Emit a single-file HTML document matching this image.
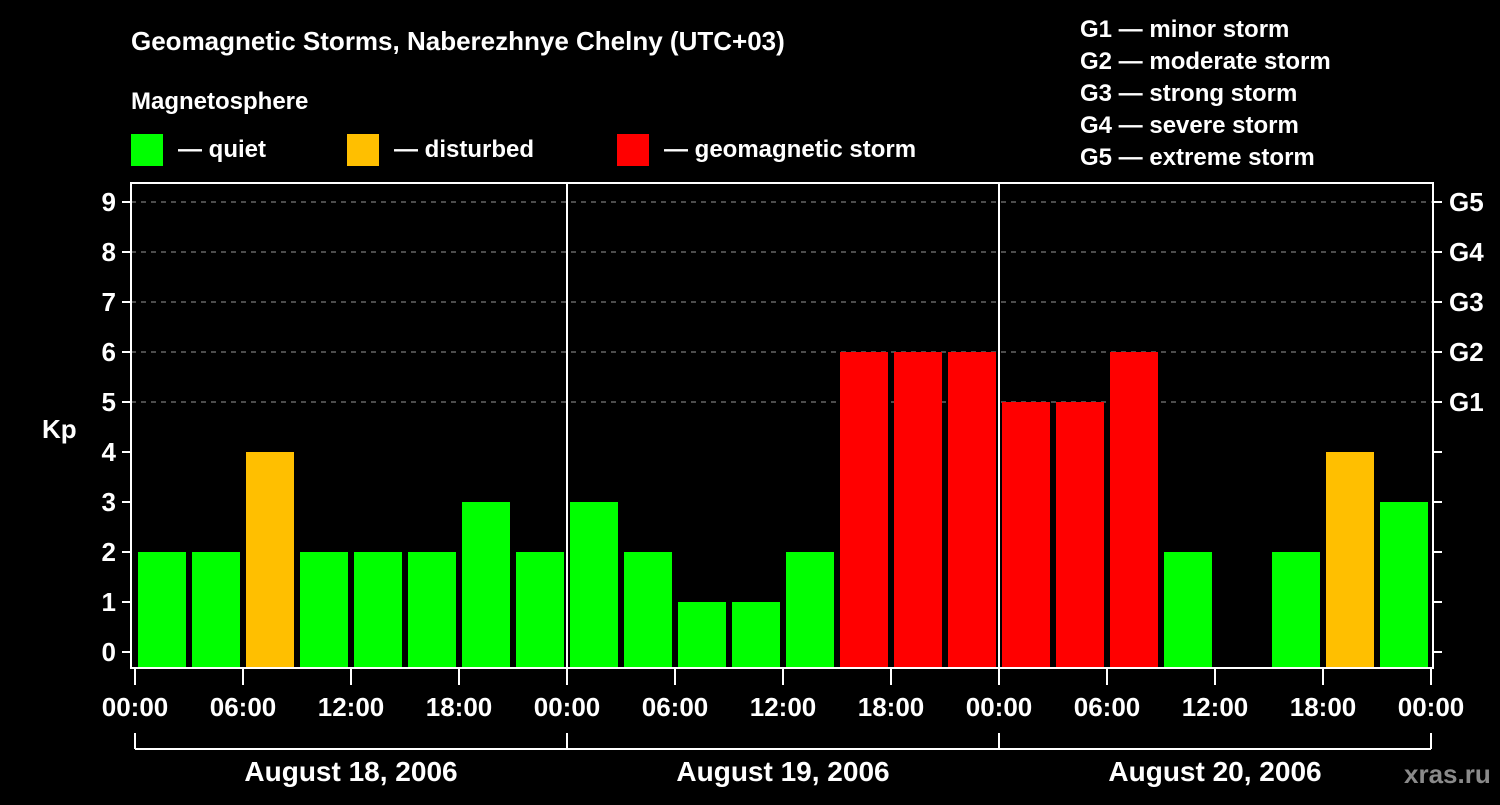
<!DOCTYPE html>
<html><head><meta charset="utf-8"><style>
body{margin:0;background:#000;width:1500px;height:800px;overflow:hidden}
svg text{font-family:"Liberation Sans",sans-serif;font-weight:bold;fill:#fff}
</style></head><body>
<svg id="c" width="1500" height="800">
<rect width="1500" height="800" fill="#000"/>
<text x="131" y="50" font-size="26">Geomagnetic Storms, Naberezhnye Chelny (UTC+03)</text>
<text x="131" y="109" font-size="24">Magnetosphere</text>
<g><rect x="131" y="134" width="32" height="32" fill="#00ff00"/><text x="178" y="157" font-size="24">— quiet</text></g>
<g><rect x="347" y="134" width="32" height="32" fill="#ffbf00"/><text x="394" y="157" font-size="24">— disturbed</text></g>
<g><rect x="617" y="134" width="32" height="32" fill="#ff0000"/><text x="664" y="157" font-size="24">— geomagnetic storm</text></g>
<g font-size="24">
<text x="1080" y="37">G1 — minor storm</text><text x="1080" y="69">G2 — moderate storm</text><text x="1080" y="101">G3 — strong storm</text><text x="1080" y="133">G4 — severe storm</text><text x="1080" y="165">G5 — extreme storm</text></g>
<text x="42" y="438" font-size="26">Kp</text>
<text x="1404" y="783" font-size="26" fill="#888" style="fill:#8a8a8a">xras.ru</text>
<g id="plot"></g>
</svg>
<script>
const kpValues=[2,2,4,2,2,2,3,2, 3,2,1,1,2,6,6,6, 5,5,6,2,0,2,4,3];
const yTicks=[0,1,2,3,4,5,6,7,8,9];
const gLabels=["G1","G2","G3","G4","G5"];
const xTickLabels=["00:00","06:00","12:00","18:00","00:00","06:00","12:00","18:00","00:00","06:00","12:00","18:00","00:00"];
const dayLabels=["August 18, 2006","August 19, 2006","August 20, 2006"];
const NS="http://www.w3.org/2000/svg";
const g=document.getElementById('plot');
const L=131,R=1433,T=183,B=668,X0=135,DAY=432;
const y=k=>652-50*k;
const x=h=>X0+h*DAY/24;
function el(t,a){const e=document.createElementNS(NS,t);for(const k in a)e.setAttribute(k,a[k]);g.appendChild(e);return e;}
[5,6,7,8,9].forEach(k=>{const l=el('line',{x1:L,x2:R,y1:y(k),y2:y(k),stroke:'#999','stroke-dasharray':'5,5','stroke-width':1});

});
kpValues.forEach((v,i)=>{if(v<=0)return;
const col=v>=5?'#ff0000':v>=4?'#ffbf00':'#00ff00';
const r=el('rect',{x:x(i*3)+3,y:y(v),width:48,height:B-y(v),fill:col});

});
el('rect',{x:L,y:T,width:R-L,height:B-T,fill:'none',stroke:'#fff','stroke-width':2});
[1,2].forEach(d=>el('line',{x1:x(24*d),x2:x(24*d),y1:T,y2:B,stroke:'#fff','stroke-width':2}));
yTicks.forEach(k=>{el('line',{x1:122,x2:L,y1:y(k),y2:y(k),stroke:'#fff','stroke-width':2});
el('line',{x1:R,x2:1442,y1:y(k),y2:y(k),stroke:'#fff','stroke-width':2});
const t=el('text',{x:116,y:y(k)+9,'font-size':26,'text-anchor':'end'});t.textContent=k;

});
gLabels.forEach((s,i)=>{const t=el('text',{x:1449,y:y(5+i)+9,'font-size':26});t.textContent=s;

});
xTickLabels.forEach((s,i)=>{const xx=x(i*6);el('line',{x1:xx,x2:xx,y1:B,y2:685,stroke:'#fff','stroke-width':2});
const t=el('text',{x:xx,y:716,'font-size':26,'text-anchor':'middle'});t.textContent=s;

});
el('line',{x1:x(0),x2:x(72),y1:749,y2:749,stroke:'#fff','stroke-width':2});
[0,1,2,3].forEach(d=>el('line',{x1:x(24*d),x2:x(24*d),y1:733,y2:749,stroke:'#fff','stroke-width':2}));
dayLabels.forEach((s,i)=>{const t=el('text',{x:x(24*i+12),y:781,'font-size':28,'text-anchor':'middle'});t.textContent=s;

});
</script>
</body></html>
